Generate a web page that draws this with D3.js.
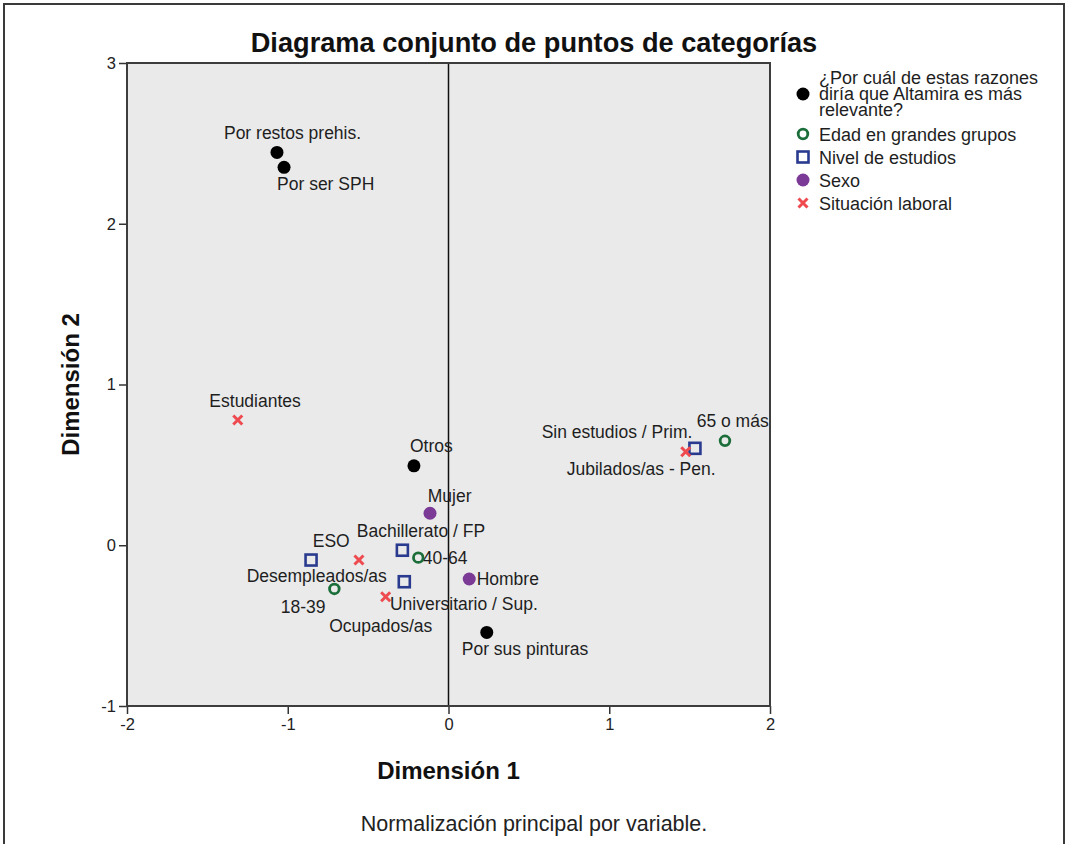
<!DOCTYPE html>
<html><head><meta charset="utf-8">
<script src="https://cdn.jsdelivr.net/npm/d3@7"></script>
<style>
html,body{margin:0;padding:0;background:#fff;}
svg{display:block;font-family:"Liberation Sans",Arial,sans-serif;}
</style></head>
<body><svg id="chart" width="1065" height="844"></svg>
<script>
// ---- data ----
const seriesNames = ["¿Por cuál de estas razones diría que Altamira es más relevante?", "Edad en grandes grupos", "Nivel de estudios", "Sexo", "Situación laboral"];
const legendLines0 = ["¿Por cuál de estas razones", "diría que Altamira es más", "relevante?"];

const razonesCats = ["Por restos prehis.", "Por ser SPH", "Otros", "Por sus pinturas"];
const razonesDim1 = [-1.067, -1.023, -0.215, 0.238];
const razonesDim2 = [2.444, 2.351, 0.494, -0.542];

const edadCats = ["18-39", "40-64", "65 o más"];
const edadDim1 = [-0.71, -0.188, 1.72];
const edadDim2 = [-0.272, -0.077, 0.65];

const estudiosCats = ["ESO", "Bachillerato / FP", "Universitario / Sup.", "Sin estudios / Prim."];
const estudiosDim1 = [-0.855, -0.287, -0.275, 1.533];
const estudiosDim2 = [-0.092, -0.031, -0.227, 0.603];

const sexoCats = ["Mujer", "Hombre"];
const sexoDim1 = [-0.115, 0.129];
const sexoDim2 = [0.199, -0.21];

const laboralCats = ["Estudiantes", "Desempleados/as", "Ocupados/as", "Jubilados/as - Pen."];
const laboralDim1 = [-1.311, -0.557, -0.391, 1.476];
const laboralDim2 = [0.779, -0.092, -0.32, 0.582];

const xTicks = [-2, -1, 0, 1, 2];
const yTicks = [-1, 0, 1, 2, 3];

// ---- layout / style (not data) ----
const labelOffset = {
  "Por restos prehis.": [-53, -13.3], "Por ser SPH": [-7, 22.7], "Otros": [-4, -14], "Por sus pinturas": [-25, 22.7],
  "18-39": [-53.6, 23.7], "40-64": [4.4, 6.3], "65 o más": [-28.3, -14],
  "ESO": [1.7, -13.3], "Bachillerato / FP": [-45.6, -13], "Universitario / Sup.": [-14.3, 28.3], "Sin estudios / Prim.": [-153.3, -10],
  "Mujer": [-2.3, -11.6], "Hombre": [7.4, 6],
  "Estudiantes": [-28.4, -13.3], "Desempleados/as": [-112.3, 21.7], "Ocupados/as": [-56.4, 35], "Jubilados/as - Pen.": [-119, 23.3]
};
const styles = [
  {type: "dot", color: "#000000"},
  {type: "ring", color: "#1b6e3a"},
  {type: "square", color: "#2a3b8f"},
  {type: "dot", color: "#7b3a96"},
  {type: "cross", color: "#ee4a4f"}
];

const groups = [
  {cats: razonesCats, d1: razonesDim1, d2: razonesDim2},
  {cats: edadCats, d1: edadDim1, d2: edadDim2},
  {cats: estudiosCats, d1: estudiosDim1, d2: estudiosDim2},
  {cats: sexoCats, d1: sexoDim1, d2: sexoDim2},
  {cats: laboralCats, d1: laboralDim1, d2: laboralDim2}
];

const svg = d3.select("#chart");
const L = 127, R = 770, T = 63, B = 706;
const x = d3.scaleLinear().domain([-2, 2]).range([L, R]);
const y = d3.scaleLinear().domain([-1, 3]).range([B, T]);
const fmt = d => String(d);

// outer frame
svg.append("rect").attr("x", 4).attr("y", 4).attr("width", 1060).attr("height", 860)
  .attr("fill", "none").attr("stroke", "#3a3a3a").attr("stroke-width", 2);

// title
svg.append("text").attr("x", 534).attr("y", 52).attr("text-anchor", "middle")
  .attr("font-size", 27.2).attr("font-weight", "bold").attr("fill", "#111")
  .text("Diagrama conjunto de puntos de categorías");

// plot background
svg.append("rect").attr("x", L).attr("y", T).attr("width", R - L).attr("height", B - T)
  .attr("fill", "#eaeaea");

// zero line
svg.append("line").attr("x1", x(0)).attr("x2", x(0)).attr("y1", T).attr("y2", B)
  .attr("stroke", "#111").attr("stroke-width", 1.5);

// axes
const xAxis = d3.axisBottom(x).tickValues(xTicks).tickSize(8).tickPadding(4).tickFormat(fmt);
const yAxis = d3.axisLeft(y).tickValues(yTicks).tickSize(8).tickPadding(3).tickFormat(fmt);
const gx = svg.append("g").attr("transform", `translate(0,${B})`).call(xAxis);
const gy = svg.append("g").attr("transform", `translate(${L},0)`).call(yAxis);
[gx, gy].forEach(g => {
  g.select(".domain").remove();
  g.selectAll(".tick line").attr("stroke", "#333").attr("stroke-width", 1.5);
  g.selectAll(".tick text").attr("font-size", 16.5).attr("fill", "#222").attr("font-family", "Liberation Sans, Arial, sans-serif");
});

// plot border
svg.append("rect").attr("x", L).attr("y", T).attr("width", R - L).attr("height", B - T)
  .attr("fill", "none").attr("stroke", "#3d3d3d").attr("stroke-width", 2);

// axis titles
svg.append("text").attr("x", (L + R) / 2).attr("y", 779).attr("text-anchor", "middle")
  .attr("font-size", 24).attr("font-weight", "bold").attr("fill", "#111").text("Dimensión 1");
svg.append("text").attr("transform", `translate(79,${(T + B) / 2}) rotate(-90)`).attr("text-anchor", "middle")
  .attr("font-size", 24).attr("font-weight", "bold").attr("fill", "#111").text("Dimensión 2");

// footnote
svg.append("text").attr("x", 534).attr("y", 831).attr("text-anchor", "middle")
  .attr("font-size", 21.5).attr("fill", "#222").text("Normalización principal por variable.");

function drawMarker(g, st, cx, cy) {
  if (st.type === "dot") {
    g.append("circle").attr("cx", cx).attr("cy", cy).attr("r", 6.5).attr("fill", st.color);
  } else if (st.type === "ring") {
    g.append("circle").attr("cx", cx).attr("cy", cy).attr("r", 4.8).attr("fill", "none")
      .attr("stroke", st.color).attr("stroke-width", 2.8);
  } else if (st.type === "square") {
    g.append("rect").attr("x", cx - 5.5).attr("y", cy - 5.5).attr("width", 11).attr("height", 11)
      .attr("fill", "none").attr("stroke", st.color).attr("stroke-width", 2.6);
  } else {
    const s = 4.5;
    g.append("path").attr("d", `M${cx - s},${cy - s}L${cx + s},${cy + s}M${cx - s},${cy + s}L${cx + s},${cy - s}`)
      .attr("stroke", st.color).attr("stroke-width", 3).attr("fill", "none");
  }
}

// labels first, then points on top
const labG = svg.append("g");
const ptG = svg.append("g");
groups.forEach((gr, gi) => {
  gr.cats.forEach((c, i) => {
    const px = x(gr.d1[i]), py = y(gr.d2[i]);
    const off = labelOffset[c];
    labG.append("text").attr("x", px + off[0]).attr("y", py + off[1])
      .attr("font-size", 17.5).attr("fill", "#1e1e1e").text(c);
    drawMarker(ptG, styles[gi], px, py);
  });
});

// legend
const lg = svg.append("g");
const lx = 803, tx = 819;
const t0 = lg.append("text").attr("x", tx).attr("y", 84).attr("font-size", 18).attr("fill", "#1e1e1e");
legendLines0.forEach((t, i) => {
  t0.append("tspan").attr("x", tx).attr("dy", i === 0 ? 0 : 16).text(t);
});
drawMarker(lg, styles[0], lx, 94);
seriesNames.slice(1).forEach((s, i) => {
  const by = 141 + i * 23;
  lg.append("text").attr("x", tx).attr("y", by).attr("font-size", 18).attr("fill", "#1e1e1e").text(s);
  drawMarker(lg, styles[i + 1], lx, by - 7);
});
</script></body></html>
